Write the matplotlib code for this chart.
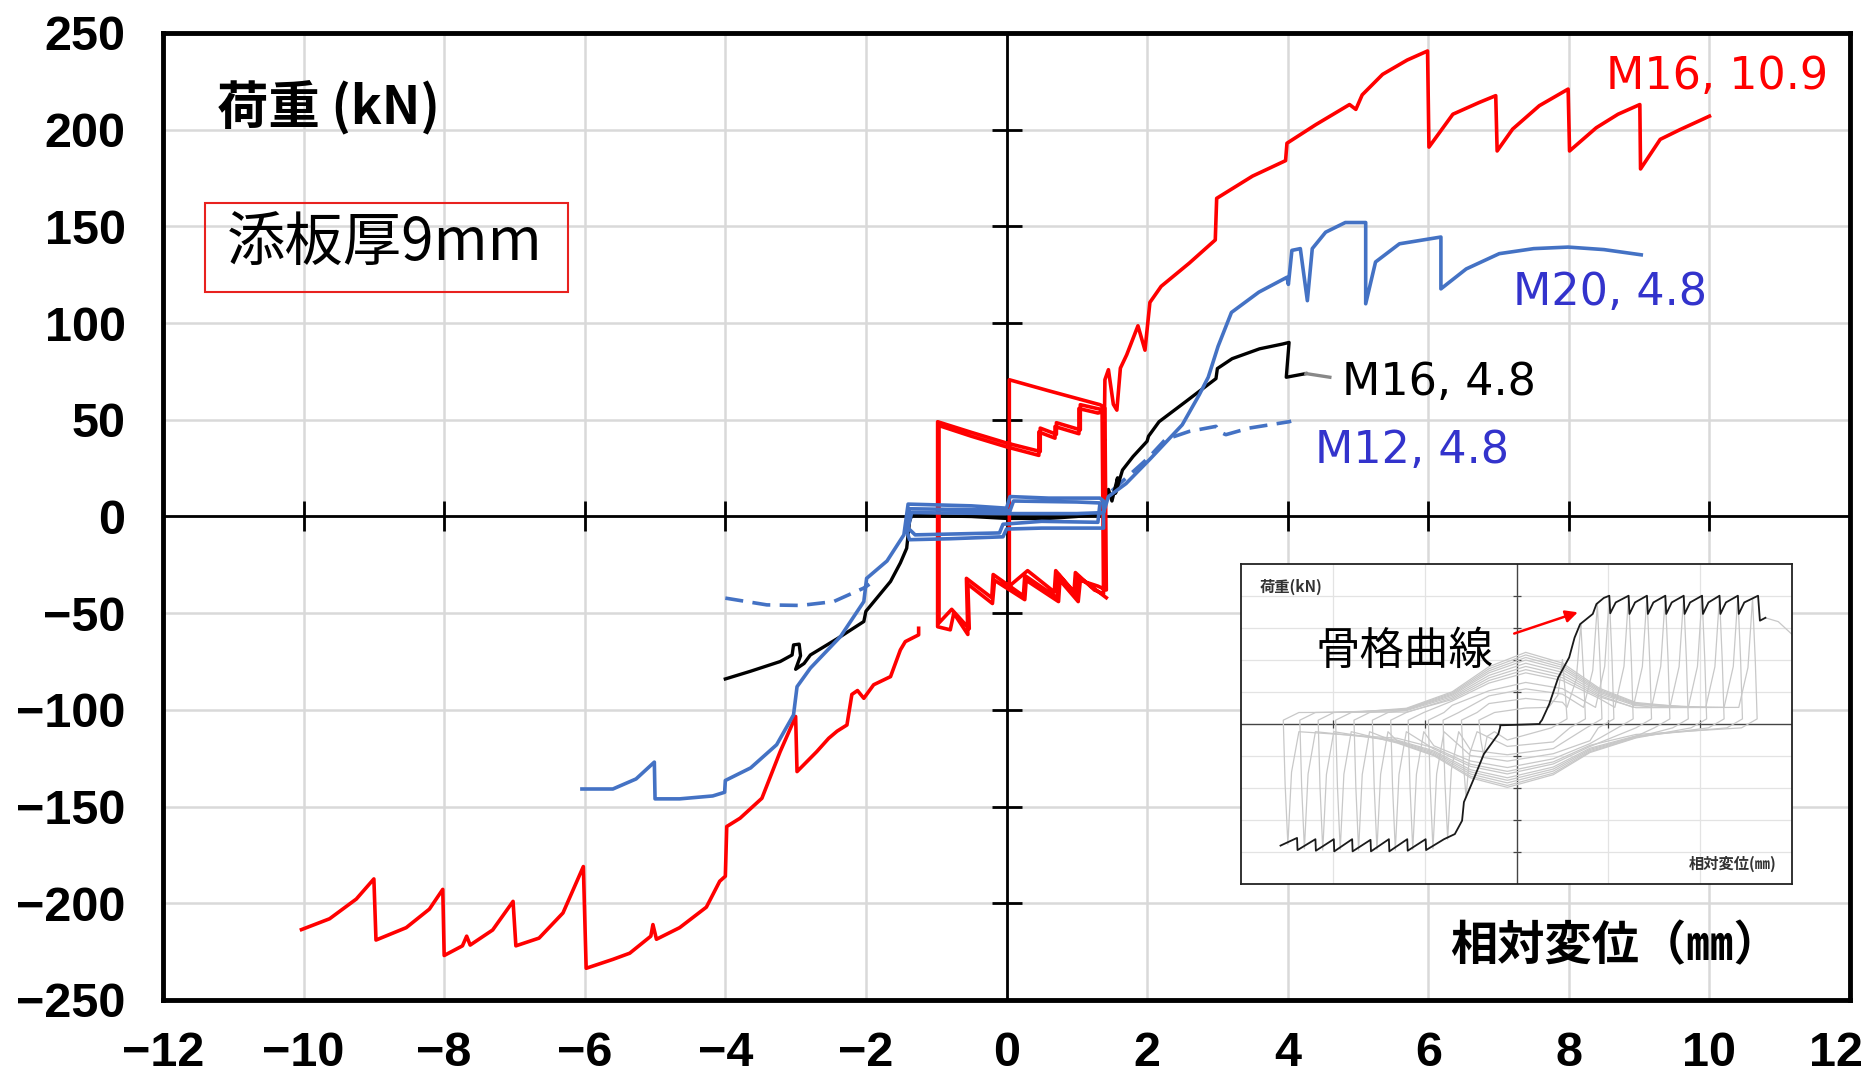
import matplotlib
matplotlib.use('Agg')
import matplotlib.pyplot as plt
from matplotlib.patches import Rectangle, FancyArrowPatch
from matplotlib.transforms import ScaledTranslation

# ---------------- data ----------------
x_ticks = [-12, -10, -8, -6, -4, -2, 0, 2, 4, 6, 8, 10, 12]
y_ticks = [-250, -200, -150, -100, -50, 0, 50, 100, 150, 200, 250]

# M16, 10.9 (red) negative envelope
red_neg_x = [-1.25, -1.25, -1.44, -1.51, -1.65, -1.89, -2.03, -2.12, -2.2, -2.27,
             -2.41, -2.53, -2.7, -2.98, -3.0, -3.22, -3.48, -3.79, -3.98, -4.0,
             -4.08, -4.27, -4.65, -4.98, -5.03, -5.06, -5.36, -5.6, -5.98, -6.02,
             -6.31, -6.65, -6.98, -7.02, -7.31, -7.63, -7.68, -7.74, -8.0, -8.02,
             -8.21, -8.54, -8.97, -9.0, -9.25, -9.63, -10.03]
red_neg_y = [-57.8, -61.2, -64.7, -69.0, -82.8, -87.0, -94.0, -90.0, -92.0, -107.8,
             -111.0, -114.7, -121.6, -131.9, -103.4, -121.6, -145.7, -156.0, -160.3, -186.0,
             -188.6, -202.0, -212.6, -218.6, -211.0, -217.0, -225.8, -229.0, -233.6, -181.0,
             -205.0, -218.0, -222.0, -199.0, -213.8, -221.6, -217.0, -222.0, -227.0, -192.8,
             -203.0, -212.6, -219.0, -187.4, -197.8, -208.0, -213.6]

# M16, 10.9 (red) central hysteresis loops
red_mid_x = [1.42, 1.02, 1.0, 0.74, 0.72, 0.26, 0.24, -0.19, -0.21, -0.57, -0.55, -0.75, -0.8, -0.98,
             -0.98, -0.5, 0.0, 0.48, 0.48, 0.71, 0.71, 1.05, 1.05, 1.33, 1.40,
             1.42, 1.3, 1.05, 1.02, 0.76, 0.74, 0.28, 0.26, -0.17, -0.2, -0.55, -0.53, -0.78, -0.96,
             -0.96, -0.5, 0.0, 0.46, 0.46, 0.69, 0.69, 1.03, 1.03, 1.3, 1.36,
             1.38, 1.25, 0.98, 0.96, 0.7, 0.68, 0.3, 0.04,
             0.04, 0.6, 1.33, 1.37, 1.39]
red_mid_y = [-42.0, -31.0, -41.0, -30.0, -42.0, -30.5, -41.0, -30.0, -42.0, -32.0, -61.0, -50.0, -58.6, -57.0,
             49.0, 43.5, 38.0, 33.6, 45.7, 42.5, 48.5, 44.8, 57.8, 55.5, 56.0,
             -38.0, -36.0, -33.0, -44.0, -33.0, -44.0, -33.0, -43.0, -33.0, -45.0, -35.0, -58.0, -48.0, -55.0,
             47.0, 41.5, 36.0, 31.6, 43.7, 40.5, 46.5, 42.8, 55.8, 53.5, 54.0,
             -40.0, -38.0, -29.0, -39.0, -28.0, -39.0, -28.0, -36.0,
             70.7, 65.0, 57.8, 57.0, 40.0]

# M16, 10.9 (red) positive envelope
red_pos_x = [1.39, 1.40, 1.45, 1.52, 1.57, 1.62, 1.71, 1.87, 1.97, 2.04, 2.2, 2.6, 2.97, 2.99,
             3.5, 3.97, 3.99, 4.4, 4.88, 4.97, 5.06, 5.35, 5.7, 5.99, 6.01, 6.35, 6.72, 6.96,
             6.98, 7.2, 7.58, 7.99, 8.01, 8.39, 8.7, 9.01, 9.02, 9.3, 9.58, 10.0]
red_pos_y = [40.0, 70.7, 75.9, 58.0, 55.0, 76.7, 83.6, 98.6, 86.0, 110.7, 119.0, 131.0, 143.0, 164.5,
             176.0, 184.0, 193.0, 202.6, 213.0, 210.5, 218.0, 228.6, 236.0, 240.7, 191.0, 208.0, 214.0, 217.6,
             189.0, 200.3, 212.4, 221.0, 189.0, 201.0, 208.0, 213.0, 179.7, 195.0, 200.0, 207.0]

# M20, 4.8 (blue)
blue_x = [-6.04, -5.6, -5.27, -5.01, -5.0, -4.65, -4.18, -4.01, -4.0, -3.64, -3.27, -3.03, -2.98,
          -2.79, -2.36, -2.03, -1.99, -1.7, -1.46, -1.40,
          -0.5, 0.0, 0.05, 0.6, 1.33, 1.38, 1.38, 0.5, 0.0, -0.05, -0.8, -1.38, -1.42, -1.38,
          -0.5, 0.05, 0.1, 1.0, 1.33, 1.3, 0.5, -0.05, -0.1, -1.3, -1.4, -1.35, 0.0, 1.0, 1.38,
          1.45, 1.7, 2.05, 2.5, 2.74, 2.87, 3.01, 3.2, 3.59, 3.99, 4.01, 4.06, 4.18, 4.28, 4.35,
          4.54, 4.82, 5.11, 5.11, 5.25, 5.59, 6.18, 6.18, 6.54, 7.01, 7.5, 7.99, 8.5, 9.03]
blue_y = [-140.9, -140.9, -135.7, -127.0, -146.0, -146.0, -144.5, -142.6, -136.5, -130.0, -118.0, -102.6, -88.0,
          -78.4, -62.0, -44.0, -32.0, -23.0, -9.5, 6.4,
          5.5, 4.3, 10.3, 9.5, 9.5, 8.0, -6.0, -6.0, -6.5, -10.5, -11.5, -12.0, -7.0, 4.0,
          3.5, 3.0, 8.0, 7.5, 7.0, -3.0, -2.5, -4.0, -8.5, -9.5, -6.0, 2.0, 1.5, 1.5, 2.0,
          10.3, 17.0, 30.0, 47.4, 62.8, 72.0, 88.0, 105.5, 116.0, 123.7, 120.0, 137.6, 138.5, 111.6, 138.5,
          147.0, 152.0, 152.0, 110.0, 131.6, 141.0, 144.5, 117.7, 128.0, 135.9, 138.5, 139.3, 138.0, 135.3]

# M16, 4.8 (black)
black_x = [-4.0, -3.64, -3.22, -3.05, -3.03, -2.95, -2.93, -3.0, -2.88, -2.79, -2.4, -2.03, -2.0,
           -1.65, -1.51, -1.42, -1.38, -1.35, -0.5, 0.0, 0.6, 1.0, 1.3, 1.38, 1.45, 1.5, 1.58,
           1.55, 1.65, 1.8, 2.0, 2.02, 2.17, 2.55, 2.98, 3.0, 3.21, 3.6, 3.93, 4.02, 3.98, 4.26]
black_y = [-84.0, -80.0, -75.0, -71.6, -66.4, -66.0, -72.0, -79.0, -76.0, -71.6, -63.0, -54.3, -49.0,
           -33.6, -24.0, -16.4, -2.6, 0.5, 0.0, -1.0, -1.0, 0.0, 1.0, 4.0, 14.0, 8.0, 20.0,
           12.0, 24.0, 31.0, 38.9, 41.5, 49.0, 59.4, 71.3, 76.5, 81.6, 86.7, 89.2, 90.0, 72.0, 73.9]
black_tail_x = [4.26, 4.6]
black_tail_y = [73.9, 72.0]

# M12, 4.8 (blue dashed)
m12_neg_x = [-4.0, -3.41, -2.93, -2.46, -2.03, -1.95]
m12_neg_y = [-42.2, -45.7, -46.0, -44.0, -37.0, -35.0]
m12_pos_x = [1.5, 2.02, 2.26, 2.6, 2.98, 3.02, 3.12, 3.45, 4.02, 4.05]
m12_pos_y = [13.3, 30.4, 39.8, 44.0, 46.6, 44.0, 42.3, 45.7, 49.0, 49.3]

# Inset: skeleton curve (black)
skel_x = [-25.7, -23.9, -23.85, -21.9, -21.85, -19.9, -19.85, -17.9, -17.85, -15.9, -15.85,
          -13.9, -13.85, -11.9, -11.85, -9.9, -9.85, -7.9, -6.72, -5.93, -5.73, -4.74, -3.56,
          -1.98, -1.78, -1.78, 0.5, 2.5, 2.57, 2.77, 3.56, 4.55, 5.73, 6.32, 6.92, 8.3, 8.7, 9.5,
          10.1, 10.2, 10.8, 12.2, 12.3, 12.9, 14.2, 14.3, 14.9, 16.2, 16.3, 16.9, 18.2, 18.3, 18.9,
          20.2, 20.3, 20.9, 22.1, 22.2, 22.8, 24.1, 24.2, 24.8, 26.3, 26.5, 27.1]
skel_y = [-190, -178, -197, -180, -198, -180, -199, -180, -199, -181, -199,
          -180, -199, -180, -198, -180, -197, -180, -172, -151, -122, -88.5, -47,
          -15.6, -5, -2, -1, 0, 2.6, 6.25, 31, 73, 104, 135, 156, 172, 187.5, 197,
          200.5, 173, 190, 200.5, 172, 190, 200.5, 172, 190, 200.5, 172, 190, 200.5, 172, 190,
          200.5, 172, 190, 200.5, 172, 190, 200.5, 172, 190, 200.5, 161.5, 166]
skel_tail_x = [27.1, 28.5, 30.0]
skel_tail_y = [166, 160, 140]

# Inset: grey hysteresis loops (peak displacements / loads, band bulges)
gray_neg_peak = [-3.6, -5.5, -7.5, -9.1, -11.3, -13.2, -15.2, -17.2, -19.2, -21.1, -23.1, -24.9]
gray_pos_peak = [5.0, 7.0, 8.8, 10.1, 12.2, 14.2, 16.2, 18.2, 20.2, 22.1, 24.1, 25.7]
gray_neg_load = [-48, -115, -180, -195, -196, -197, -196, -197, -196, -197, -195, -188]
gray_pos_load = [100, 155, 186, 200, 200, 199, 200, 199, 200, 199, 200, 196]
gray_bulge_up = [25, 40, 55, 65, 80, 90, 100, 108, 112, 104, 95, 85]
gray_bulge_low = [-25, -35, -48, -58, -68, -78, -88, -96, -99, -92, -84, -74]

# ---------------- figure ----------------
fig = plt.figure(figsize=(18.71, 10.82), dpi=100)
ax = fig.add_axes([0.08712, 0.07579, 0.90166, 0.89372])
ax.set_xlim(-12, 12)
ax.set_ylim(-250, 250)
ax.set_xticks(x_ticks)
ax.set_yticks(y_ticks)
ax.grid(True, color='#d9d9d9', linewidth=1.8)
ax.set_axisbelow(True)
ax.tick_params(axis='both', length=0)
ax.tick_params(axis='y', pad=27)
ax.tick_params(axis='x', pad=22)
for lab in ax.get_xticklabels() + ax.get_yticklabels():
    lab.set_fontfamily(['Liberation Sans', 'DejaVu Sans'])
    lab.set_fontweight('bold')
    lab.set_fontsize(35)
# keep the right-most x label inside the figure (as in the reference)
last = ax.xaxis.get_major_ticks()[-1].label1
last.set_transform(last.get_transform() + ScaledTranslation(-0.14, 0, fig.dpi_scale_trans))
for s in ax.spines.values():
    s.set_linewidth(3.5)
    s.set_color('black')

# zero axes with cross ticks
ax.axhline(0, color='black', lw=2.0, zorder=2)
ax.axvline(0, color='black', lw=2.0, zorder=2)
ax.plot([t for t in x_ticks if t not in (-12, 0, 12)], [0] * 10, linestyle='none',
        marker='|', markersize=22, markeredgewidth=2.0, color='black', zorder=2)
ax.plot([0] * 8, [t for t in y_ticks if t not in (-250, 0, 250)], linestyle='none',
        marker='_', markersize=22, markeredgewidth=2.0, color='black', zorder=2)

lw = 2.6
ax.plot(m12_neg_x, m12_neg_y, color='#4472c4', lw=lw, linestyle=(0, (5, 2.6)), zorder=3)
ax.plot(m12_pos_x, m12_pos_y, color='#4472c4', lw=lw, linestyle=(0, (5, 2.6)), zorder=3)
ax.plot(black_x, black_y, color='black', lw=2.4, zorder=4)
ax.plot(black_tail_x, black_tail_y, color='#888888', lw=2.4, zorder=4)
ax.plot(red_neg_x, red_neg_y, color='#ff0000', lw=lw, zorder=5)
ax.plot(red_mid_x, red_mid_y, color='#ff0000', lw=lw, zorder=5)
ax.plot(red_pos_x, red_pos_y, color='#ff0000', lw=lw, zorder=5)
ax.plot(blue_x, blue_y, color='#4472c4', lw=lw, zorder=6)

cjk = ['Noto Sans CJK JP', 'DejaVu Sans']
ax.text(0.032, 0.923, '荷重 (kN)', transform=ax.transAxes, family=cjk, weight='bold',
        fontsize=37, ha='left', va='center')
ax.add_patch(Rectangle((0.0249, 0.732), 0.2152, 0.092, transform=ax.transAxes,
                       fill=False, edgecolor='#e8221f', lw=1.5, zorder=7))
ax.text(0.038, 0.781, '添板厚9mm', transform=ax.transAxes, family=cjk,
        fontsize=42, ha='left', va='center', zorder=7)
ax.text(0.763, 0.056, '相対変位（㎜）', transform=ax.transAxes, family=cjk, weight='bold',
        fontsize=34, ha='left', va='center')

ax.text(0.987, 0.955, 'M16, 10.9', transform=ax.transAxes, color='#ff0000', fontsize=32,
        ha='right', va='center')
ax.text(0.800, 0.732, 'M20, 4.8', transform=ax.transAxes, color='#3333cc', fontsize=32,
        ha='left', va='center')
ax.text(0.699, 0.639, 'M16, 4.8', transform=ax.transAxes, color='black', fontsize=32,
        ha='left', va='center')
ax.text(0.683, 0.568, 'M12, 4.8', transform=ax.transAxes, color='#3333cc', fontsize=32,
        ha='left', va='center')

# ---------------- inset ----------------
axi = fig.add_axes([0.6633, 0.183, 0.2945, 0.2957])
axi.set_facecolor('white')
axi.set_xlim(-30, 30)
axi.set_ylim(-250, 250)
axi.set_xticks([-20, -10, 10, 20])
axi.set_yticks([-200, -150, -100, -50, 50, 100, 150, 200])
axi.set_xticklabels([])
axi.set_yticklabels([])
axi.tick_params(length=0)
axi.grid(True, color='#e3e3e3', lw=0.9)
for s in axi.spines.values():
    s.set_linewidth(1.3)
    s.set_color('#222222')
axi.axhline(0, color='#444444', lw=1.0, zorder=1)
axi.axvline(0, color='#444444', lw=1.0, zorder=1)
axi.plot([-20, -10, 10, 20], [0] * 4, linestyle='none', marker='|', markersize=6,
         color='#444444', markeredgewidth=0.9)
axi.plot([0] * 8, [-200, -150, -100, -50, 50, 100, 150, 200], linestyle='none', marker='_',
         markersize=6, color='#444444', markeredgewidth=0.9)

# band shape: relative positions of the hump along the cycle (upper hump right of 0, lower left)
up_band = [(-12, 0.22), (-7, 0.45), (-3, 0.8), (1, 1.0), (5, 0.85), (9, 0.5), (13, 0.3)]
low_band = [(13, 0.22), (8, 0.45), (4, 0.8), (-1, 1.0), (-5, 0.85), (-9, 0.5), (-13, 0.3)]
for xn, xp, yn, yp, bu, bl in zip(gray_neg_peak, gray_pos_peak, gray_neg_load,
                                  gray_pos_load, gray_bulge_up, gray_bulge_low):
    vx = [xp, xp + 0.3, xp + 0.5, xp - 1.2]
    vy = [yp, yp * 0.5, 8, -6]
    for bx, f in low_band:
        if xn + 1.5 < bx < xp - 1.5:
            vx.append(bx)
            vy.append(bl * f)
    vx += [xn + 1.2, xn + 0.4, xn, xn - 0.3, xn - 0.5, xn + 1.2]
    vy += [-12, yn * 0.4, yn, yn * 0.5, 6, 18]
    for bx, f in up_band:
        if xn + 1.5 < bx < xp - 1.5:
            vx.append(bx)
            vy.append(bu * f)
    vx += [xp - 1.5, xp - 0.5, xp]
    vy += [26, yp * 0.45, yp]
    axi.plot(vx, vy, color='#c8c8c8', lw=0.9, zorder=2)

axi.plot(skel_tail_x, skel_tail_y, color='#c8c8c8', lw=0.9, zorder=2)
axi.plot(skel_x, skel_y, color='#1a1a1a', lw=1.3, zorder=3)

axi.text(0.033, 0.93, '荷重(kN)', transform=axi.transAxes, family=cjk, weight='bold',
         fontsize=11, color='#333333', ha='left', va='center')
axi.text(0.972, 0.062, '相対変位(㎜)', transform=axi.transAxes, family=cjk, weight='bold',
         fontsize=11, color='#333333', ha='right', va='center')
axi.text(0.135, 0.728, '骨格曲線', transform=axi.transAxes, family=cjk,
         fontsize=32, color='black', ha='left', va='center', zorder=5)
axi.add_patch(FancyArrowPatch((0.491, 0.78), (0.616, 0.852), transform=axi.transAxes,
                              arrowstyle='-|>', mutation_scale=18, color='#ff0000', lw=1.8,
                              zorder=5))

fig.savefig('out.png', dpi=100)
